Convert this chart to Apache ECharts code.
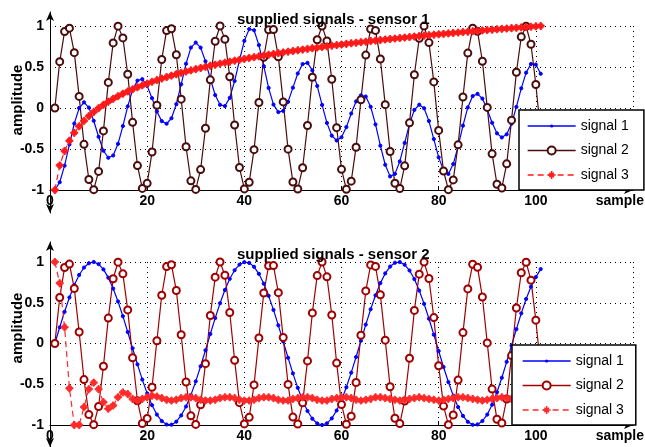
<!DOCTYPE html>
<html><head><meta charset="utf-8">
<script src="https://cdn.jsdelivr.net/npm/echarts@6/dist/echarts.min.js"></script>
<style>html,body{margin:0;padding:0;background:#fff}#c{width:645px;height:447px}</style>
</head><body><div id="c"></div>
<script>
// sample numbers are 1..101 (position in arrays + 1)
const xTicks = [0, 20, 40, 60, 80, 100, 120];
const yTicks = [-1, -0.5, 0, 0.5, 1];
const legendNames = ['signal 1', 'signal 2', 'signal 3'];

// sensor 1
const s1Sig1 = [
 -1.0,-.905,-.703,-.444,-.189,-.001,.069,.005,-.156,-.351,
 -.521,-.607,-.579,-.437,-.220,.020,.221,.334,.352,.270,
 .120,-.042,-.160,-.192,-.125,.047,.289,.540,.737,.798,
 .736,.570,.355,.158,.039,.024,.124,.329,.585,.819,
 .962,.948,.767,.510,.245,.042,-.050,-.035,.075,.248,
 .421,.536,.550,.458,.269,.038,-.182,-.337,-.396,-.357,
 -.233,-.067,.080,.154,.140,.015,-.200,-.460,-.692,-.834,
 -.803,-.652,-.426,-.193,-.023,.040,-.003,-.159,-.379,-.602,
 -.761,-.804,-.684,-.468,-.215,.007,.146,.172,.115,-.019,
 -.180,-.309,-.359,-.321,-.192,.013,.240,.431,.536,.530,
 .418];
const s1Sig2 = [
 0,.565,.932,.974,.675,.141,-.443,-.872,-.996,-.773,
 -.279,.312,.794,.998,.855,.412,-.175,-.702,-.981,-.919,
 -.537,.034,.592,.944,.966,.650,.108,-.473,-.888,-.993,
 -.751,-.247,.343,.814,1.0,.837,.381,-.207,-.726,-.987,
 -.906,-.508,.067,.619,.954,.956,.624,.074,-.502,-.903,
 -.988,-.728,-.214,.375,.833,1.0,.818,.350,-.240,-.748,
 -.991,-.892,-.478,.101,.645,.964,.946,.598,.041,-.530,
 -.917,-.982,-.705,-.181,.406,.851,.999,.798,.318,-.273,
 -.768,-.996,-.877,-.449,.134,.670,.972,.935,.570,.007,
 -.559,-.930,-.975,-.681,-.148,.436,.868,.997,.777,.286,
 -.305];
const s1Sig3 = [
 -1.0,-.700,-.524,-.399,-.303,-.223,-.157,-.099,-.048,-.002,
 .039,.077,.112,.144,.174,.202,.228,.253,.276,.298,
 .320,.340,.359,.377,.395,.412,.429,.444,.459,.474,
 .488,.502,.516,.528,.541,.553,.565,.577,.588,.599,
 .610,.620,.630,.640,.650,.659,.669,.678,.687,.695,
 .704,.712,.721,.729,.737,.744,.752,.760,.767,.774,
 .782,.789,.796,.803,.809,.816,.822,.829,.835,.841,
 .847,.853,.859,.865,.871,.877,.883,.888,.894,.899,
 .904,.910,.915,.920,.926,.930,.936,.940,.946,.950,
 .955,.960,.965,.969,.974,.978,.983,.987,.991,.996,
 1.0];

// sensor 2
const s2Sig1 = [
 0,.199,.389,.565,.717,.841,.932,.985,1.0,.974,
 .909,.808,.675,.516,.335,.141,-.058,-.256,-.443,-.612,
 -.757,-.872,-.952,-.994,-.996,-.959,-.883,-.773,-.631,-.465,
 -.279,-.083,.117,.312,.494,.657,.794,.899,.968,.998,
 .989,.941,.855,.734,.585,.412,.223,.025,-.175,-.367,
 -.544,-.702,-.828,-.923,-.981,-1.0,-.980,-.919,-.822,-.694,
 -.537,-.358,-.166,.034,.232,.420,.592,.741,.860,.944,
 .991,.999,.966,.896,.791,.650,.487,.304,.108,-.092,
 -.288,-.473,-.639,-.780,-.888,-.961,-.997,-.993,-.951,-.872,
 -.751,-.598,-.420,-.225,-.025,.176,.370,.546,.697,.815,
 .913];
const s2Sig2 = s1Sig2.slice();
const s2Sig3 = [
 1.0,.74,.2,-.55,-1.0,-1.0,-.78,-.56,-.48,-.56,
 -.72,-.8,-.76,-.66,-.6,-.62,-.68,-.70,-.68,-.66,
 -.64,-.65,-.67,-.69,-.70,-.69,-.67,-.66,-.66,-.67,
 -.69,-.70,-.70,-.69,-.67,-.66,-.66,-.67,-.69,-.70,
 -.70,-.69,-.67,-.66,-.66,-.67,-.69,-.70,-.70,-.68,
 -.67,-.66,-.66,-.67,-.69,-.70,-.70,-.68,-.67,-.66,
 -.66,-.67,-.69,-.70,-.69,-.68,-.66,-.66,-.67,-.68,
 -.69,-.70,-.69,-.68,-.67,-.66,-.67,-.68,-.69,-.70,
 -.69,-.68,-.67,-.66,-.66,-.67,-.68,-.69,-.70,-.69,
 -.68,-.67,-.66,-.67,-.68,-.69,-.70,-.69,-.68,-.67,
 -.66];

const FONT = '"Liberation Sans", Arial, Helvetica, sans-serif';
const asterisk = 'path://M4,0L6,0L6,4L10,4L10,6L6,6L6,10L4,10L4,6L0,6L0,4L4,4Z' +
 'M7.19,1.53L8.47,2.81L6.27,5L8.47,7.19L7.19,8.47L5,6.27L2.81,8.47L1.53,7.19L3.73,5L1.53,2.81L2.81,1.53L5,3.73Z';
// small dot inside a 10x10 box (so the legend shows it small too)
const dot = 'path://M0,0L0.01,0L0.01,0.01ZM10,10L9.99,10L9.99,9.99ZM3,5A2,2,0,1,1,7,5A2,2,0,1,1,3,5Z';

const pairs = arr => arr.map((v, i) => [i + 1, v]);

function mainX(g) {
  return {
    type: 'value', gridIndex: g, min: xTicks[0], max: xTicks[xTicks.length - 1], interval: 20,
    axisLine: { onZero: false, symbol: ['none', 'arrow'], symbolSize: [6, 9], lineStyle: { color: '#000', width: 1 } },
    axisTick: { show: true, inside: true, length: 4, lineStyle: { color: '#000' } },
    axisLabel: { color: '#000', fontWeight: 'bold', fontSize: 14, fontFamily: FONT, margin: 4,
      formatter: v => (v === 120 ? '' : String(v)) },
    splitLine: { show: true, lineStyle: { color: '#000', type: [1, 4], width: 1 } },
    name: 'sample', nameLocation: 'end', nameGap: 11,
    nameTextStyle: { color: '#000', fontWeight: 'bold', fontSize: 14, fontFamily: FONT, align: 'right', verticalAlign: 'top', padding: [4, 0, 0, 0] }
  };
}
function mainY(g) {
  return {
    type: 'value', gridIndex: g, min: yTicks[0], max: yTicks[yTicks.length - 1], interval: 0.5,
    axisLine: { show: false, onZero: false },
    axisTick: { show: false },
    axisLabel: { color: '#000', fontWeight: 'bold', fontSize: 14, fontFamily: FONT, margin: 6 },
    splitLine: { show: true, lineStyle: { color: '#000', type: [1, 4], width: 1 } }
  };
}
function arrowY(g) {
  return {
    type: 'value', gridIndex: g, min: 0, max: 1,
    axisLine: { show: true, onZero: false, symbol: ['arrow', 'arrow'], symbolSize: [6, 9], lineStyle: { color: '#000', width: 1 } },
    axisTick: { show: false }, axisLabel: { show: false }, splitLine: { show: false }
  };
}
function hiddenX(g) { return { type: 'value', gridIndex: g, show: false, min: 0, max: 1 }; }

function lineSeries(name, data, ax, color, symbol, size, dashed) {
  return {
    name, type: 'line', xAxisIndex: ax, yAxisIndex: ax, data: pairs(data),
    symbol, symbolSize: size, showSymbol: true, animation: false,
    lineStyle: { color, width: 1.2, type: dashed ? [6, 4] : 'solid' },
    itemStyle: { color, borderColor: color },
    emphasis: { disabled: true }
  };
}

const top2 = '#4a0c0c', bot2 = '#a00000';
const legendBase = {
  orient: 'vertical', itemGap: 10.5, itemWidth: 48, itemHeight: 10,
  backgroundColor: '#fff', borderColor: '#000', borderWidth: 1.5, selectedMode: false,
  lineStyle: { width: 1.3 },
  textStyle: { fontSize: 14, color: '#000', fontFamily: FONT }, z: 10
};
const chart = echarts.init(document.getElementById('c'), null, { renderer: 'canvas' });
chart.setOption({
  backgroundColor: '#fff',
  animation: false,
  title: [
    { text: 'supplied signals - sensor 1', left: 232, top: 7, textStyle: { fontSize: 15, fontWeight: 'bold', color: '#000', fontFamily: FONT } },
    { text: 'supplied signals - sensor 2', left: 232, top: 242, textStyle: { fontSize: 15, fontWeight: 'bold', color: '#000', fontFamily: FONT } }
  ],
  grid: [
    { left: 50, top: 26, width: 583, height: 164 },
    { left: 50, top: 262, width: 583, height: 163 },
    { left: 50, top: 12, width: 583, height: 201 },
    { left: 50, top: 242, width: 583, height: 215 }
  ],
  xAxis: [mainX(0), mainX(1), hiddenX(2), hiddenX(3)],
  yAxis: [mainY(0), mainY(1), arrowY(2), arrowY(3)],
  legend: [
    Object.assign({}, legendBase, { left: 519, top: 110, padding: [9, 15, 8, 8], data: legendNames }),
    Object.assign({}, legendBase, { left: 512, top: 345, padding: [9, 8, 8, 10], data: legendNames.map(n => n + ' ') })
  ],
  graphic: [
    { type: 'text', x: 18, y: 100, rotation: Math.PI / 2, style: { text: 'amplitude', font: 'bold 15px ' + FONT, fill: '#000', align: 'center', verticalAlign: 'middle' } },
    { type: 'text', x: 18, y: 328, rotation: Math.PI / 2, style: { text: 'amplitude', font: 'bold 15px ' + FONT, fill: '#000', align: 'center', verticalAlign: 'middle' } }
  ],
  series: [
    lineSeries(legendNames[0], s1Sig1, 0, '#0000ff', dot, 8, false),
    lineSeries(legendNames[1], s1Sig2, 0, top2, 'emptyCircle', 7, false),
    lineSeries(legendNames[2], s1Sig3, 0, '#ff1a1a', asterisk, 7, true),
    lineSeries(legendNames[0] + ' ', s2Sig1, 1, '#0000ff', dot, 8, false),
    lineSeries(legendNames[1] + ' ', s2Sig2, 1, bot2, 'emptyCircle', 7, false),
    lineSeries(legendNames[2] + ' ', s2Sig3, 1, '#ff2a2a', asterisk, 7, true)
  ]
});
</script></body></html>
